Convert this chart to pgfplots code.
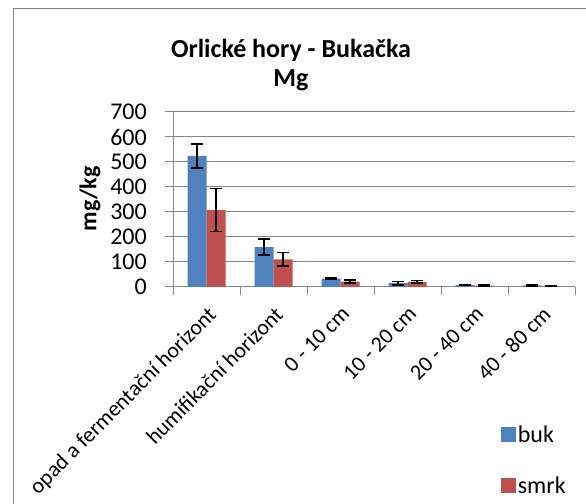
\documentclass[border=0pt]{standalone}
\usepackage{pgfplots}
\pgfplotsset{compat=1.18}
\usepackage{fontspec}
\setmainfont{Carlito}
\definecolor{buk}{HTML}{4F81BD}
\definecolor{smrk}{HTML}{C0504D}
\definecolor{axgray}{HTML}{868686}
\newcommand{\fs}{\fontsize{24bp}{28bp}\selectfont}
\newcommand{\fc}{\fontsize{22bp}{26bp}\selectfont}
\begin{document}
\begin{tikzpicture}[x=1bp,y=1bp]
\useasboundingbox (0,0) rectangle (586,504);
\draw[axgray, line width=1bp] (13,-20) -- (13,495) -- (610,495);
\node[font=\fontsize{26bp}{30bp}\selectfont\bfseries] at (291,454) {Orlické hory - Bukačka};
\node[font=\fontsize{26bp}{30bp}\selectfont\bfseries] at (291,424) {Mg};
\node[rotate=90, font=\fs\bfseries] at (90,305) {mg/kg};
\foreach \v in {0,100,...,700} {
  \node[anchor=east, inner sep=0pt, font=\fs] at (147, 217+\v/4) {\v};
}
\begin{axis}[
  at={(173bp,217bp)}, anchor=south west, scale only axis,
  width=402bp, height=175bp,
  ymin=0, ymax=700, ytick={0,100,...,700}, yticklabels={},
  xmin=-0.5, xmax=5.5, xtick={0,...,5},
  minor xtick={-0.5,0.5,...,5.5},
  xticklabels={opad a fermentační horizont, humifikační horizont, 0 - 10 cm, 10 - 20 cm, 20 - 40 cm, 40 - 80 cm},
  ybar=0pt, bar width=19bp,
  ymajorgrids, grid style={axgray, line width=1bp},
  axis x line*=bottom, axis y line*=left,
  axis line style={axgray, line width=1bp},
  tick align=outside, major tick length=8bp, minor tick length=8bp,
  tick style={axgray, line width=1bp},
  x tick style={draw=none},
  minor x tick style={draw=axgray, line width=1bp},
  /pgf/number format/assume math mode=true,
  tick label style={font=\fs},
  xticklabel shift=10bp,
  xticklabel style={font=\fc, rotate=45, anchor=north east, inner sep=0pt},
  error bars/y dir=both, error bars/y explicit,
  error bars/error bar style={black, line width=1.5bp},
  error bars/error mark options={rotate=90, mark size=6bp, line width=1.5bp, black},
  legend style={at={(0.815,-0.78)}, anchor=north west, draw=none, fill=none,
    font=\fs, row sep=29bp, inner sep=0pt},
  legend cell align=left,
  legend image code/.code={\fill[#1,draw=none] (0bp,-7.5bp) rectangle (15bp,7.5bp);},
]
\addplot[fill=buk, draw=none] coordinates {
  (0,524) +- (0,48)
  (1,159) +- (0,32)
  (2,33) +- (0,3)
  (3,15) +- (0,7)
  (4,7) +- (0,2)
  (5,6) +- (0,2)
};
\addplot[fill=smrk, draw=none] coordinates {
  (0,307) +- (0,86)
  (1,110) +- (0,27)
  (2,21) +- (0,6)
  (3,20) +- (0,5)
  (4,5) +- (0,2)
  (5,3) +- (0,1)
};
\legend{buk, smrk}
\end{axis}
\end{tikzpicture}
\end{document}
